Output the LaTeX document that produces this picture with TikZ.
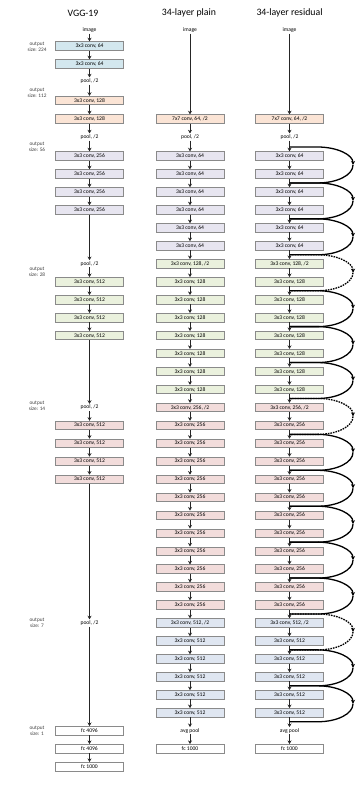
\documentclass[tikz,border=0pt]{standalone}
\usepackage{fontspec}
\setmainfont{Carlito}
\usetikzlibrary{arrows.meta,positioning,calc}
\definecolor{boxgray}{HTML}{8A8A8A}
\definecolor{vggblue}{HTML}{D3E7EE}
\definecolor{peach}{HTML}{FBE4D5}
\definecolor{lavender}{HTML}{E7E5F0}
\definecolor{softgreen}{HTML}{EAF1DD}
\definecolor{softpink}{HTML}{F2DCDB}
\definecolor{paleblue}{HTML}{DFE6F1}

\begin{document}
\begin{tikzpicture}[x=1pt, y=-1pt,
  layer/.style={rectangle, draw=boxgray, line width=0.75pt, minimum width=68pt,
                minimum height=8.5pt, inner sep=0pt, font=\fontsize{5.6}{5.6}\selectfont},
  bluebox/.style={layer, fill=vggblue},
  peachbox/.style={layer, fill=peach},
  lavbox/.style={layer, fill=lavender},
  greenbox/.style={layer, fill=softgreen},
  pinkbox/.style={layer, fill=softpink},
  slatebox/.style={layer, fill=paleblue},
  fcbox/.style={layer, fill=white},
  tag/.style={font=\fontsize{5.6}{5.6}\selectfont, inner sep=1pt},
  sizetag/.style={font=\fontsize{5.3}{6}\selectfont, align=center, text=black!75},
  title/.style={font=\fontsize{9.8}{10}\selectfont},
  flow/.style={draw, ->, >={Stealth[length=3.6pt,width=4pt]}, line width=1pt, black!85},
  shortcut/.style={draw, line width=1.3pt, black, >={Stealth[length=4pt,width=4pt]}},
  projection/.style={shortcut, dash pattern=on 1.6pt off 1pt},
]
  \useasboundingbox (0,0) rectangle (359,786);

  % ===== Column headers =====
  \node[title] (title-vgg)   at (83, 13)    {VGG-19};
  \node[title] (title-plain) at (189, 13)   {34-layer plain};
  \node[title] (title-res)   at (289.5, 13) {34-layer residual};

  % ===== Output sizes (left margin) =====
  \node[sizetag] (size224) at (37, 47)  {output\\size: 224};
  \node[sizetag] (size112) at (37, 93)  {output\\size: 112};
  \node[sizetag] (size56)  at (37, 147) {output\\size: 56};
  \node[sizetag] (size28)  at (37, 272) {output\\size: 28};
  \node[sizetag] (size14)  at (37, 406) {output\\size: 14};
  \node[sizetag] (size7)   at (37, 623) {output\\size: 7};
  \node[sizetag] (size1)   at (37, 731) {output\\size: 1};

  % ===== VGG-19 column =====
  \node[tag] (v-img) at (89.5, 30) {image};
  \node[bluebox]  (v1) at (89.5, 46)    {3x3 conv, 64};
  \node[bluebox]  (v2) at (89.5, 64)    {3x3 conv, 64};
  \node[tag]  (v-pool1) at (89.5, 81)   {pool, /2};
  \node[peachbox] (v3) at (89.5, 100.5) {3x3 conv, 128};
  \node[peachbox] (v4) at (89.5, 119)   {3x3 conv, 128};
  \node[tag]  (v-pool2) at (89.5, 137)  {pool, /2};
  \foreach \k [count=\n from 5] in {0,...,3}
    \node[lavbox] (v\n) at (89.5, {156+17.96*\k}) {3x3 conv, 256};
  \node[tag] (v-pool3) at (89.5, {156+17.96*6}) {pool, /2};
  \foreach \k [count=\n from 9] in {7,...,10}
    \node[greenbox] (v\n) at (89.5, {156+17.96*\k}) {3x3 conv, 512};
  \node[tag] (v-pool4) at (89.5, {156+17.96*14}) {pool, /2};
  \foreach \k [count=\n from 13] in {15,...,18}
    \node[pinkbox] (v\n) at (89.5, {156+17.96*\k}) {3x3 conv, 512};
  \node[tag] (v-pool5) at (89.5, {156+17.96*26}) {pool, /2};
  \node[fcbox] (v-fc1) at (89.5, {156+17.96*32}) {fc 4096};
  \node[fcbox] (v-fc2) at (89.5, {156+17.96*33}) {fc 4096};
  \node[fcbox] (v-fc3) at (89.5, {156+17.96*34}) {fc 1000};

  \foreach \b [remember=\b as \a (initially v-img)] in
      {v1,v2,v-pool1,v3,v4,v-pool2,v5,v6,v7,v8,v-pool3,v9,v10,v11,v12,
       v-pool4,v13,v14,v15,v16,v-pool5,v-fc1,v-fc2,v-fc3}
    \draw[flow] (\a) -- (\b);

  % ===== 34-layer plain and residual columns =====
  \foreach \cx/\c in {190/p, 289.5/r} {
    \node[tag] (\c-img) at (\cx, 30) {image};
    \node[peachbox] (\c-7x7) at (\cx, 119) {7x7 conv, 64, /2};
    \node[tag] (\c-pool) at (\cx, 137) {pool, /2};
    \foreach \k in {0,...,5}
      \node[lavbox] (\c-\k) at (\cx, {156+17.96*\k}) {3x3 conv, 64};
    \node[greenbox] (\c-6) at (\cx, {156+17.96*6}) {3x3 conv, 128, /2};
    \foreach \k in {7,...,13}
      \node[greenbox] (\c-\k) at (\cx, {156+17.96*\k}) {3x3 conv, 128};
    \node[pinkbox] (\c-14) at (\cx, {156+17.96*14}) {3x3 conv, 256, /2};
    \foreach \k in {15,...,25}
      \node[pinkbox] (\c-\k) at (\cx, {156+17.96*\k}) {3x3 conv, 256};
    \node[slatebox] (\c-26) at (\cx, {156+17.96*26}) {3x3 conv, 512, /2};
    \foreach \k in {27,...,31}
      \node[slatebox] (\c-\k) at (\cx, {156+17.96*\k}) {3x3 conv, 512};
    \node[tag] (\c-avg) at (\cx, {156+17.96*32}) {avg pool};
    \node[fcbox] (\c-fc) at (\cx, {156+17.96*33}) {fc 1000};

    \draw[flow] (\c-img) -- (\c-7x7);
    \draw[flow] (\c-7x7) -- (\c-pool);
    \draw[flow] (\c-pool) -- (\c-0);
    \foreach \k [count=\n] in {0,...,30}
      \draw[flow] (\c-\k) -- (\c-\n);
    \draw[flow] (\c-31) -- (\c-avg);
    \draw[flow] (\c-avg) -- (\c-fc);
  }

  % ===== Shortcut connections (residual only) =====
  \foreach \k/\sty in {0/shortcut, 2/shortcut, 4/shortcut,
                       6/projection, 8/shortcut, 10/shortcut, 12/shortcut,
                       14/projection, 16/shortcut, 18/shortcut, 20/shortcut,
                       22/shortcut, 24/shortcut,
                       26/projection, 28/shortcut, 30/shortcut} {
    \pgfmathsetmacro\ya{156+17.96*\k-9}
    \pgfmathsetmacro\ym{156+17.96*\k+8.98}
    \pgfmathsetmacro\yb{156+17.96*(\k+1)+9}
    \coordinate (sc\k-a) at (289.5, \ya);
    \coordinate (sc\k-m) at (353, \ym);
    \coordinate (sc\k-c) at (317.5, \yb);
    \coordinate (sc\k-b) at (289.5, \yb);
    \draw[\sty, ->] (sc\k-a) -- ++(28,0) .. controls +(20,0) and +(0,-10) .. (sc\k-m);
    \draw[\sty] (sc\k-m) .. controls +(0,10) and +(20,0) .. (sc\k-c) -- (sc\k-b);
  }

\end{tikzpicture}
\end{document}
